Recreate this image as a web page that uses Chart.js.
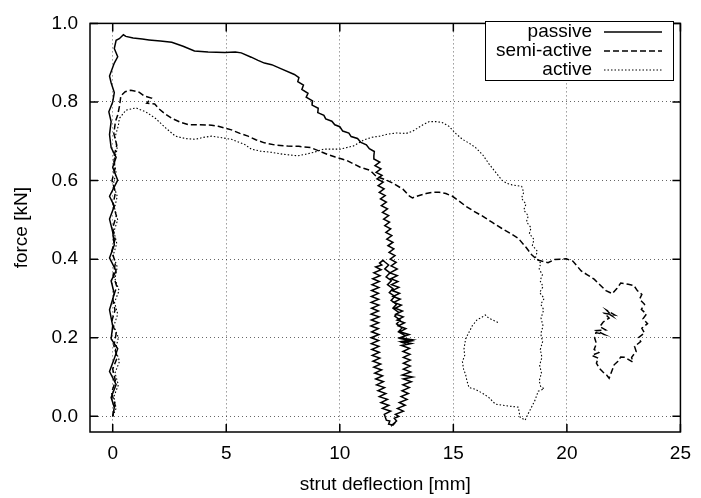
<!DOCTYPE html>
<html>
<head>
<meta charset="utf-8">
<script src="https://cdn.jsdelivr.net/npm/chart.js@4.4.1/dist/chart.umd.min.js"></script>
<style>
  html, body { margin: 0; padding: 0; background: #fff; }
  #wrap { width: 701px; height: 498px; }
</style>
</head>
<body>
<div id="wrap"><canvas id="chart" width="701" height="498"></canvas></div>
<script>
/* ---- data ---- */
const seriesNames = ['passive', 'semi-active', 'active'];
const xTickValues = [0, 5, 10, 15, 20, 25];
const yTickValues = [0, 0.2, 0.4, 0.6, 0.8, 1.0];
const xTitle = 'strut deflection [mm]';
const yTitle = 'force [kN]';

// [deflection mm, force kN]
const passive = [
  // rise at x ~ 0
  [0,0],[0.07,0.023],[-0.07,0.048],[0.15,0.081],[-0.14,0.114],[0.07,0.147],[0.22,0.172],[-0.07,0.197],
  [0,0.23],[-0.14,0.271],[0.07,0.312],[-0.07,0.345],[0.15,0.37],[-0.14,0.403],[0.07,0.436],[0,0.469],
  [-0.14,0.502],[0.07,0.535],[-0.14,0.56],[0.22,0.601],[0,0.634],[0.15,0.659],[-0.07,0.684],[-0.14,0.717],
  [-0.07,0.75],[-0.17,0.775],[0,0.8],[0.07,0.824],[-0.07,0.849],[-0.14,0.866],[0.07,0.899],[0.22,0.915],
  [0.07,0.936],[0.15,0.957],[0.29,0.961],[0.47,0.971],[0.58,0.967],
  // plateau and first descent
  [0.9,0.963],[1.3,0.96],[1.6,0.958],[2.1,0.955],[2.6,0.952],[3.1,0.942],[3.6,0.93],[4.2,0.927],
  [4.94,0.926],[5.4,0.927],[5.66,0.925],[6.1,0.914],[6.4,0.906],[6.68,0.899],[7.0,0.895],[7.4,0.885],
  [8.0,0.87],[8.2,0.862],[8.15,0.852],[8.4,0.843],[8.33,0.832],[8.6,0.822],[8.52,0.812],[8.8,0.803],
  [8.78,0.792],[9.05,0.784],[9.03,0.773],[9.3,0.766],[9.38,0.757],[9.65,0.751],[9.78,0.742],[10.0,0.737],
  [10.13,0.726],[10.4,0.721],[10.5,0.712],[10.78,0.707],[10.93,0.697],[11.17,0.691],[11.3,0.681],[11.52,0.674],
  [11.5,0.663],
  // wavy vertical drop
  [11.5,0.655],[11.76,0.647],[11.55,0.638],[11.81,0.63],[11.6,0.621],[11.86,0.613],[11.64,0.604],[11.91,0.596],
  [11.69,0.587],[11.95,0.579],[11.74,0.57],[12.0,0.562],[11.79,0.553],[12.05,0.545],[11.83,0.536],[12.1,0.528],
  [11.88,0.519],[12.15,0.511],[11.93,0.502],[12.19,0.494],[11.98,0.485],[12.24,0.477],[12.03,0.468],[12.29,0.46],
  [12.07,0.451],[12.34,0.443],[12.12,0.434],[12.38,0.426],[12.17,0.417],[12.43,0.409],[12.22,0.4],[12.48,0.392],
  [12.26,0.383],[12.53,0.375],
  // loop, right side down
  [12.21,0.365],[12.53,0.358],[12.25,0.35],[12.56,0.343],[12.28,0.335],[12.6,0.328],[12.31,0.32],[12.63,0.313],
  [12.34,0.305],[12.66,0.298],[12.38,0.29],[12.71,0.283],[12.44,0.275],[12.76,0.268],[12.47,0.26],[12.79,0.253],
  [12.52,0.245],[12.85,0.238],[12.58,0.23],[12.91,0.223],[12.64,0.215],[13.05,0.208],[12.65,0.2],[13.2,0.195],
  [12.7,0.19],[13.15,0.185],[12.72,0.18],[13.07,0.173],[12.78,0.165],[13.09,0.158],[12.8,0.15],[13.1,0.143],
  [12.8,0.135],[13.1,0.128],[12.8,0.12],[13.12,0.113],[12.75,0.105],[13.2,0.1],[12.8,0.095],[13.15,0.088],
  [12.78,0.08],[13.06,0.073],[12.74,0.065],[13.02,0.058],[12.7,0.05],[12.96,0.043],[12.62,0.035],[12.88,0.028],
  [12.54,0.02],[12.8,0.013],[12.45,0.005],
  // bottom
  [12.6,0],[12.4,-0.005],[12.5,-0.012],[12.25,-0.025],[12.45,-0.015],[12.35,-0.022],[12.15,-0.02],[12.2,-0.012],
  [12.05,-0.01],
  // left side up
  [11.96,0.005],[12.24,0.013],[11.88,0.02],[12.16,0.028],[11.81,0.035],[12.1,0.043],[11.74,0.05],[12.03,0.058],
  [11.68,0.065],[11.97,0.073],[11.62,0.08],[11.92,0.088],[11.58,0.095],[11.88,0.103],[11.54,0.11],[11.84,0.118],
  [11.5,0.125],[11.8,0.133],[11.46,0.14],[11.76,0.148],[11.43,0.155],[11.74,0.163],[11.41,0.17],[11.72,0.178],
  [11.39,0.185],[11.71,0.193],[11.38,0.2],[11.72,0.208],[11.4,0.215],[11.7,0.223],[11.37,0.23],[11.71,0.238],
  [11.39,0.245],[11.73,0.253],[11.38,0.26],[11.7,0.268],[11.4,0.275],[11.72,0.283],[11.38,0.29],[11.71,0.298],
  [11.39,0.305],[11.7,0.313],[11.4,0.32],[11.72,0.328],[11.42,0.335],[11.74,0.343],[11.45,0.35],[11.77,0.358],
  [11.5,0.365],[11.82,0.373],[11.58,0.38],[11.85,0.385],
  // top and inner strand down
  [11.75,0.39],[11.9,0.397],[12.0,0.392],
  [12.15,0.385],[11.98,0.375],[12.21,0.365],[12.04,0.355],[12.27,0.345],[12.1,0.335],[12.34,0.325],[12.18,0.315],
  [12.42,0.305],[12.26,0.295],[12.5,0.285],[12.34,0.275],[12.58,0.265],[12.42,0.255],[12.66,0.245],[12.5,0.235],
  [12.74,0.225],[12.58,0.215],[12.9,0.205],[12.65,0.198],[13.15,0.192],[12.75,0.188],[12.9,0.185]
];

const semiActive = [
  [0,0],[0.1,0.03],[-0.05,0.06],[0.12,0.09],[0,0.12],[0.2,0.15],[0.05,0.18],[0.15,0.21],[-0.05,0.24],
  [0.1,0.27],[0,0.3],[0.18,0.33],[0.02,0.36],[0.12,0.39],[-0.04,0.42],[0.1,0.45],[0,0.48],[0.16,0.51],
  [0.02,0.54],[0.12,0.57],[-0.03,0.6],[0.1,0.63],[0.05,0.66],[0.18,0.69],[0.05,0.72],[0.12,0.75],
  [0.22,0.767],[0.3,0.79],[0.36,0.816],[0.55,0.826],[0.8,0.83],[1.16,0.825],[1.4,0.815],[1.7,0.81],
  [1.5,0.797],[1.85,0.795],[2.03,0.783],[2.3,0.77],[2.61,0.758],[3.0,0.748],[3.34,0.742],[3.8,0.742],
  [4.36,0.741],[4.65,0.738],[5.23,0.729],[5.6,0.72],[5.96,0.713],[6.3,0.704],[6.68,0.696],[7.2,0.69],
  [7.7,0.688],[8.2,0.687],[8.71,0.684],[9.1,0.675],[9.44,0.667],[9.8,0.66],[10.31,0.651],[10.9,0.634],
  [11.33,0.626],[11.62,0.61],[12.06,0.601],[12.35,0.593],[12.78,0.578],[13.07,0.56],[13.2,0.556],[13.5,0.562],
  [13.8,0.567],[14.1,0.57],[14.38,0.57],[14.67,0.567],[14.96,0.56],[15.25,0.548],[15.54,0.535],[15.9,0.522],
  [16.27,0.51],[16.7,0.494],[17.14,0.478],[17.5,0.466],[17.86,0.453],[18.2,0.43],[18.45,0.411],[18.7,0.398],
  [18.88,0.395],[19.17,0.391],[19.46,0.399],[19.7,0.4],[19.97,0.401],[20.26,0.395],[20.63,0.37],[20.9,0.36],
  [21.2,0.349],[21.45,0.335],[21.72,0.32],[22.0,0.312],[22.2,0.325],[22.37,0.339],[22.7,0.336],[22.95,0.333],
  [23.1,0.32],[23.3,0.31],[23.2,0.298],[23.42,0.285],[23.28,0.272],[23.5,0.26],[23.35,0.248],[23.55,0.236],
  [23.3,0.224],[23.42,0.212],[23.15,0.2],[23.25,0.19],[22.98,0.178],[23.05,0.165],[22.85,0.15],[22.9,0.138],
  [22.7,0.145],[22.55,0.15],[22.37,0.151],[22.25,0.14],[22.08,0.131],[21.98,0.115],[21.86,0.097],[21.75,0.105],
  [21.6,0.112],[21.43,0.122],[21.3,0.135],[21.38,0.148],[21.1,0.155],[21.4,0.162],[21.2,0.17],[21.3,0.185],
  [21.22,0.2],[21.28,0.213],[21.65,0.208],[21.3,0.218],[21.7,0.22],[21.45,0.228],[21.6,0.24],[21.86,0.25],
  [21.65,0.262],[22.1,0.258],[21.75,0.27],[22.0,0.255],[21.86,0.26]
];

const active = [
  [0,0],[0.15,0.02],[0.05,0.05],[0.25,0.08],[0.1,0.11],[0.3,0.14],[0.12,0.17],[0.25,0.2],[0.05,0.23],
  [0.22,0.26],[0.08,0.29],[0.28,0.32],[0.1,0.35],[0.2,0.38],[0.02,0.41],[0.18,0.44],[0.05,0.47],[0.22,0.5],
  [0.08,0.53],[0.2,0.56],[0.02,0.59],[0.15,0.62],[0.05,0.65],[0.2,0.68],[0.1,0.71],[0.25,0.74],[0.29,0.758],
  [0.58,0.779],[1.02,0.785],[1.45,0.775],[1.89,0.758],[2.33,0.734],[2.76,0.713],[3.2,0.707],[3.63,0.705],
  [4.0,0.71],[4.36,0.713],[4.8,0.709],[5.23,0.705],[5.81,0.692],[6.1,0.68],[6.5,0.675],[6.97,0.672],
  [7.5,0.667],[8.14,0.663],[8.5,0.667],[8.86,0.672],[9.3,0.68],[9.7,0.68],[10.02,0.68],[10.6,0.688],
  [11.04,0.703],[11.4,0.71],[11.76,0.713],[12.1,0.718],[12.49,0.721],[12.93,0.72],[13.22,0.726],[13.66,0.742],
  [13.94,0.75],[14.24,0.75],[14.5,0.748],[14.81,0.738],[15.1,0.72],[15.4,0.705],[15.7,0.695],[15.98,0.684],
  [16.3,0.665],[16.56,0.643],[16.85,0.622],[17.14,0.601],[17.35,0.593],[17.58,0.589],[18.01,0.585],
  [18.1,0.57],[18.0,0.555],[18.2,0.54],[18.1,0.525],[18.3,0.51],[18.22,0.495],[18.42,0.48],[18.35,0.465],
  [18.55,0.45],[18.48,0.435],[18.7,0.42],[18.62,0.405],[18.85,0.39],[18.78,0.375],[18.92,0.36],[18.82,0.345],
  [18.95,0.33],[18.8,0.315],[19.0,0.3],[18.85,0.285],[18.98,0.271],[18.86,0.25],[18.95,0.23],[18.85,0.21],
  [18.93,0.19],[18.83,0.17],[18.9,0.15],[18.8,0.13],[18.88,0.11],[18.78,0.09],[18.85,0.075],[19.0,0.07],
  [18.74,0.064],[18.59,0.04],[18.3,0.007],[18.16,-0.01],[17.94,-0.002],[17.86,0.023],[17.6,0.025],[17.29,0.027],
  [16.85,0.031],[16.56,0.048],[16.3,0.058],[16.12,0.064],[15.9,0.07],[15.69,0.073],[15.6,0.09],[15.54,0.106],
  [15.45,0.12],[15.4,0.139],[15.5,0.155],[15.47,0.172],[15.54,0.197],[15.7,0.215],[15.83,0.23],[16.05,0.246],
  [16.2,0.25],[16.41,0.258],[16.55,0.25],[16.7,0.246],[16.99,0.238]
];

/* ---- styling ---- */
const FONT = '"Liberation Sans", Arial, Helvetica, sans-serif';
const FSIZE = 19;
const lineStyles = [
  { width: 1.5, dash: [] },
  { width: 1.5, dash: [6, 3] },
  { width: 1.1, dash: [1.5, 2] }
];
const toXY = pts => pts.map(p => ({ x: p[0], y: p[1] }));

// gnuplot-ish frame: inward mirrored tics, border, axis titles, boxed key
const gnuFrame = {
  id: 'gnuFrame',
  afterDraw(chart) {
    const { ctx, chartArea: a, scales: { x, y } } = chart;
    ctx.save();
    ctx.strokeStyle = '#000';
    ctx.lineWidth = 1.5;
    const tl = 8;
    ctx.beginPath();
    xTickValues.forEach(v => {
      const px = x.getPixelForValue(v);
      ctx.moveTo(px, a.bottom); ctx.lineTo(px, a.bottom - tl);
      ctx.moveTo(px, a.top);    ctx.lineTo(px, a.top + tl);
    });
    yTickValues.forEach(v => {
      const py = y.getPixelForValue(v);
      ctx.moveTo(a.left, py);  ctx.lineTo(a.left + tl, py);
      ctx.moveTo(a.right, py); ctx.lineTo(a.right - tl, py);
    });
    ctx.stroke();
    ctx.strokeRect(a.left, a.top, a.right - a.left, a.bottom - a.top);

    // axis titles
    ctx.fillStyle = '#000';
    ctx.font = FSIZE + 'px ' + FONT;
    ctx.textAlign = 'center';
    ctx.textBaseline = 'middle';
    ctx.fillText(xTitle, (a.left + a.right) / 2, 485);
    ctx.save();
    ctx.translate(22, (a.top + a.bottom) / 2);
    ctx.rotate(-Math.PI / 2);
    ctx.fillText(yTitle, 0, 0);
    ctx.restore();

    // key
    const kx = 485, ky = 21, kw = 188, kh = 59;
    ctx.fillStyle = '#fff';
    ctx.fillRect(kx, ky, kw, kh);
    ctx.lineWidth = 1;
    ctx.strokeStyle = '#000';
    ctx.strokeRect(kx + 0.5, ky + 0.5, kw, kh);
    ctx.textAlign = 'right';
    ctx.fillStyle = '#000';
    seriesNames.forEach((name, i) => {
      const ry = 32 + i * 19;
      ctx.fillText(name, 592, ry);
      ctx.beginPath();
      ctx.lineWidth = lineStyles[i].width;
      ctx.setLineDash(lineStyles[i].dash);
      ctx.moveTo(604, ry);
      ctx.lineTo(662, ry);
      ctx.stroke();
    });
    ctx.setLineDash([]);
    ctx.restore();
  }
};

const sets = [passive, semiActive, active].map((pts, i) => ({
  label: seriesNames[i],
  data: toXY(pts),
  showLine: true,
  borderColor: '#000',
  borderWidth: lineStyles[i].width,
  borderDash: lineStyles[i].dash,
  pointRadius: 0,
  tension: 0,
  fill: false
}));

const gridOpts = { color: 'rgba(0,0,0,0.6)', lineWidth: 1, drawTicks: false };

new Chart(document.getElementById('chart'), {
  type: 'scatter',
  data: { datasets: sets },
  plugins: [gnuFrame],
  options: {
    responsive: false,
    animation: false,
    devicePixelRatio: 1,
    layout: { padding: { top: 12, right: 15, left: 0, bottom: 0 } },
    plugins: { legend: { display: false }, tooltip: { enabled: false } },
    scales: {
      x: {
        type: 'linear',
        min: -1, max: 25,
        afterBuildTicks: s => { s.ticks = xTickValues.map(v => ({ value: v })); },
        afterFit: s => { s.height = 66; },
        ticks: { color: '#000', font: { family: FONT, size: FSIZE }, padding: 10, callback: v => String(v) },
        grid: gridOpts,
        border: { display: false, dash: [1, 3] }
      },
      y: {
        type: 'linear',
        min: -0.04, max: 1.0,
        afterBuildTicks: s => { s.ticks = yTickValues.map(v => ({ value: v })); },
        afterFit: s => { s.width = 90; },
        ticks: { color: '#000', font: { family: FONT, size: FSIZE }, padding: 12, callback: v => v.toFixed(1) },
        grid: gridOpts,
        border: { display: false, dash: [1, 3] }
      }
    }
  }
});
</script>
</body>
</html>
